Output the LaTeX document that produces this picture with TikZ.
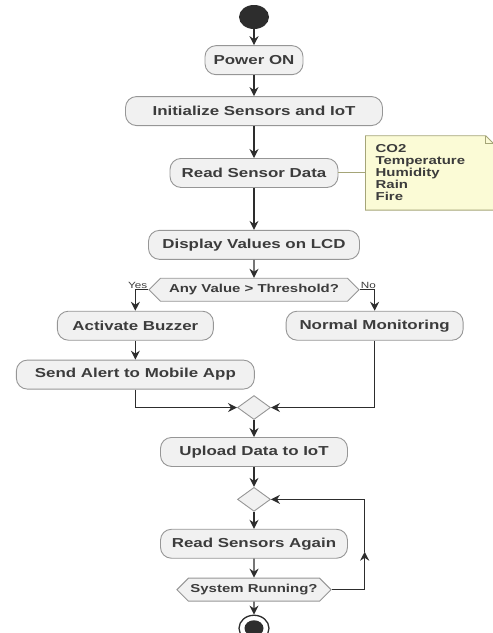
\documentclass[tikz,border=0pt]{standalone}
\usepackage{fontspec}
\setmainfont{Liberation Sans}
\newfontfamily\actfont[FakeStretch=1.3]{Liberation Sans}
\usepackage{tikz}
\usetikzlibrary{shapes.geometric, shapes.symbols, arrows.meta, positioning, backgrounds, calc}
\definecolor{actfill}{RGB}{241,241,241}
\definecolor{actline}{RGB}{150,150,150}
\definecolor{flowline}{RGB}{45,45,45}
\definecolor{textgray}{RGB}{60,60,60}
\definecolor{notefill}{RGB}{251,251,214}
\definecolor{noteline}{RGB}{165,165,120}

\begin{document}
\begin{tikzpicture}[
    x=1pt, y=-1pt,
    action/.style={rectangle, rounded corners=11pt, minimum height=29pt, inner sep=2pt, text centered, draw=actline, line width=0.9pt, fill=actfill, text=textgray, font=\actfont\bfseries\fontsize{13}{15}\selectfont},
    decision/.style={signal, signal to=west and east, minimum height=23pt, inner sep=2pt, draw=actline, line width=0.9pt, fill=actfill, text=textgray, font=\actfont\bfseries\fontsize{11.5}{13}\selectfont},
    merge/.style={diamond, minimum width=33pt, minimum height=24pt, inner sep=0pt, draw=actline, line width=0.9pt, fill=actfill},
    note/.style={rectangle, minimum width=128pt, minimum height=74pt, text width=108pt, inner xsep=10pt, align=left, text=textgray, font=\actfont\bfseries\fontsize{11.5}{12}\selectfont},
    guard/.style={inner sep=1pt, text=textgray, font=\actfont\fontsize{9}{10}\selectfont},
    startnode/.style={ellipse, minimum width=30pt, minimum height=24pt, inner sep=0pt, fill=flowline},
    endnode/.style={ellipse, minimum width=30pt, minimum height=26pt, inner sep=0pt, draw=flowline, line width=1.3pt, fill=white},
    enddot/.style={ellipse, minimum width=19pt, minimum height=16pt, inner sep=0pt, fill=flowline},
    arrow/.style={-{Stealth[length=9pt, width=9pt]}, line width=1.3pt, color=flowline}
]
\useasboundingbox (0,0) rectangle (493,633);

\node[startnode] (start) at (254,17) {};
\node[action, minimum width=98pt, below=16pt of start] (power) {Power ON};
\node[action, minimum width=257pt, below=21pt of power] (init) {Initialize Sensors and IoT};
\node[action, minimum width=168pt, below=32pt of init] (read) {Read Sensor Data};
\node[note, right=27pt of read] (sensors) {CO2\\Temperature\\Humidity\\Rain\\Fire};
\node[action, minimum width=211pt, below=42pt of read] (lcd) {Display Values on LCD};
\node[decision, minimum width=210pt, below=18pt of lcd] (check) {Any Value > Threshold?};
\node[guard, anchor=south east] (yes) at (check.west) {Yes};
\node[guard, anchor=south west] (no) at (check.east) {No};
\node[action, minimum width=156pt, below=21pt of check.west, xshift=-13pt] (buzzer) {Activate Buzzer};
\node[action, minimum width=177pt, below=21pt of check.east, xshift=15pt] (normal) {Normal Monitoring};
\node[action, minimum width=238pt, below=19pt of buzzer] (alert) {Send Alert to Mobile App};
\node[merge] (join) at ($(check |- alert.south)+(0,18)$) {};
\node[action, minimum width=187pt, below=17pt of join] (upload) {Upload Data to IoT};
\node[merge, below=20pt of upload] (again) {};
\node[action, minimum width=187pt, below=17pt of again] (reread) {Read Sensors Again};
\node[decision, minimum width=153pt, below=19pt of reread] (running) {System Running?};
\node[endnode, below=13pt of running] (stop) {};
\node[enddot] (stopdot) at (stop) {};
\coordinate (back) at ($(running.east)+(33,-38)$);

% note with folded corner
\begin{scope}[on background layer]
\path[draw=noteline, fill=notefill, line width=0.9pt] (sensors.south west) -- (sensors.north west) -- ($(sensors.north east)+(-8,0)$) -- ($(sensors.north east)+(0,8)$) -- (sensors.south east) -- cycle;
\draw[noteline, line width=0.9pt] ($(sensors.north east)+(-8,0)$) |- ($(sensors.north east)+(0,8)$);
\end{scope}

\draw[arrow] (start) -- (power);
\draw[arrow] (power) -- (init);
\draw[arrow] (init) -- (read);
\draw[noteline, line width=1pt] (read) -- (sensors);
\draw[arrow] (read) -- (lcd);
\draw[arrow] (lcd) -- (check);
\draw[arrow] (check.west) -| (buzzer);
\draw[arrow] (check.east) -| (normal);
\draw[arrow] (buzzer) -- (alert);
\draw[arrow] (alert) |- (join);
\draw[arrow] (normal) |- (join);
\draw[arrow] (join) -- (upload);
\draw[arrow] (upload) -- (again);
\draw[arrow] (again) -- (reread);
\draw[arrow] (reread) -- (running);
\draw[arrow] (running) -- (stop);
\draw[arrow] (running.east) -| (back);
\draw[arrow] (back) |- (again);

\end{tikzpicture}
\end{document}
